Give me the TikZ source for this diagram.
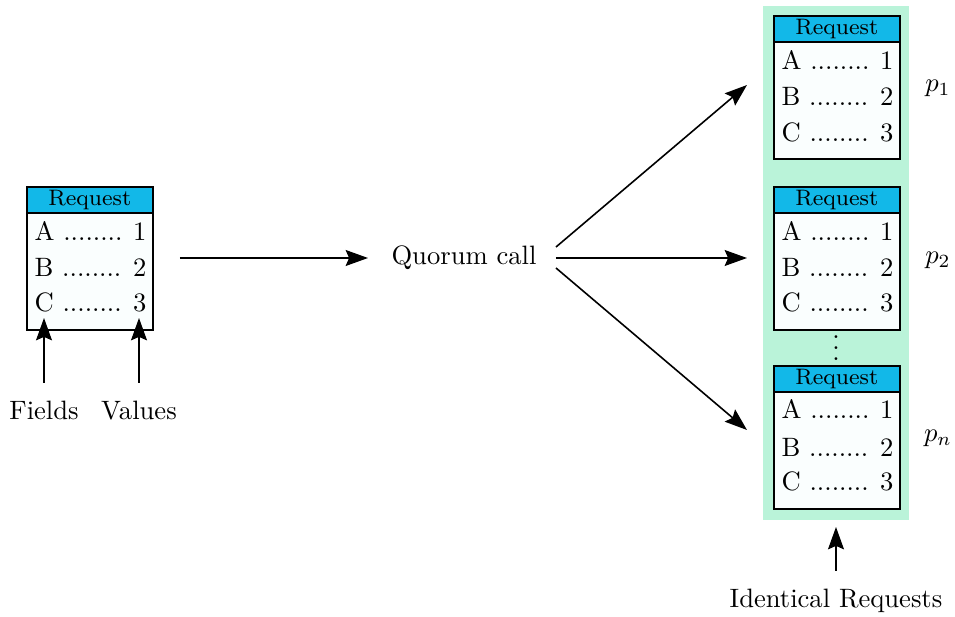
\documentclass[tikz,border=0pt]{standalone}
\usetikzlibrary{arrows.meta,calc}

\definecolor{headcyan}{RGB}{18,184,232}
\definecolor{groupgreen}{RGB}{186,243,217}
\definecolor{bodyfill}{RGB}{250,254,254}

\tikzset{
  cardhead/.style={draw=black, line width=0.6pt, fill=headcyan,
    minimum width=47.4pt, minimum height=9.8pt, inner sep=0pt,
    anchor=north west, font=\fontsize{8.4}{10}\selectfont},
  cardbody/.style={draw=black, line width=0.6pt, fill=bodyfill,
    minimum width=47.4pt, minimum height=44pt, inner sep=0pt,
    anchor=north west},
  cardrow/.style={anchor=base west, inner sep=0pt, text width=42.1pt},
  groupbox/.style={fill=groupgreen, inner sep=0pt, anchor=north west,
    minimum width=54.9pt, minimum height=193.3pt},
  flow/.style={-{Stealth[length=8.4pt,width=6pt,inset=1.3pt]}, line width=0.6pt},
  plaintext/.style={inner sep=3.33pt}
}

% A request card: name, left x, top y
\newcommand\requestcard[3]{%
  \node[cardbody] (#1) at (#2,#3+26) {};
  \node[cardhead] (#1-h) at (#2,#3) {Request};
  \node[cardrow] (#1-a) at (#2+8,#3+54) {A ........\hfill 1};
  \node[cardrow] (#1-b) at (#2+8,#3+91) {B ........\hfill 2};
  \node[cardrow] (#1-c) at (#2+8,#3+126) {C ........\hfill 3};
}

\begin{document}
\begin{tikzpicture}[x=0.376pt,y=-0.376pt]
  \useasboundingbox (0,0) rectangle (955,617);

  % replicas group
  \node[groupbox] (group) at (762,5) {};

  % client request
  \requestcard{req}{26}{186}
  \node[plaintext, anchor=base] (fields) at (44,420) {Fields};
  \node[plaintext, anchor=base] (values) at (139,420) {Values};
  \coordinate (fields-tip) at (44,318);
  \coordinate (values-tip) at (139,318);
  \draw[flow] ([yshift=3.6pt]fields.north) -- (fields-tip);
  \draw[flow] ([yshift=3.6pt]values.north) -- (values-tip);

  % quorum call
  \node[plaintext] (quorum) at (464,258) {Quorum call};
  \coordinate (qin) at (180,258);
  \coordinate (qin-end) at (368,258);
  \draw[flow] (qin) -- (qin-end);

  % replicas
  \requestcard{r1}{773}{15}
  \requestcard{r2}{773}{186}
  \requestcard{rn}{773}{365}
  \node[inner sep=0pt] (dots) at (836,340) {$\vdots$};

  \node (p1) at (938,88) {$p_1$};
  \node (p2) at (938,260) {$p_2$};
  \node (pn) at (938,438) {$p_n$};

  % fan-out to replicas
  \coordinate (q1) at (556,247);
  \coordinate (q2) at (556,258);
  \coordinate (q3) at (556,268);
  \coordinate (t1) at (747,85);
  \coordinate (t2) at (747,258);
  \coordinate (t3) at (747,430);
  \draw[flow] (q1) -- (t1);
  \draw[flow] (q2) -- (t2);
  \draw[flow] (q3) -- (t3);

  % identical requests
  \node[plaintext, anchor=base] (ident) at (836,608) {Identical Requests};
  \coordinate (ident-tip) at (836,527);
  \draw[flow] ([yshift=3.6pt]ident.north) -- (ident-tip);
\end{tikzpicture}
\end{document}
